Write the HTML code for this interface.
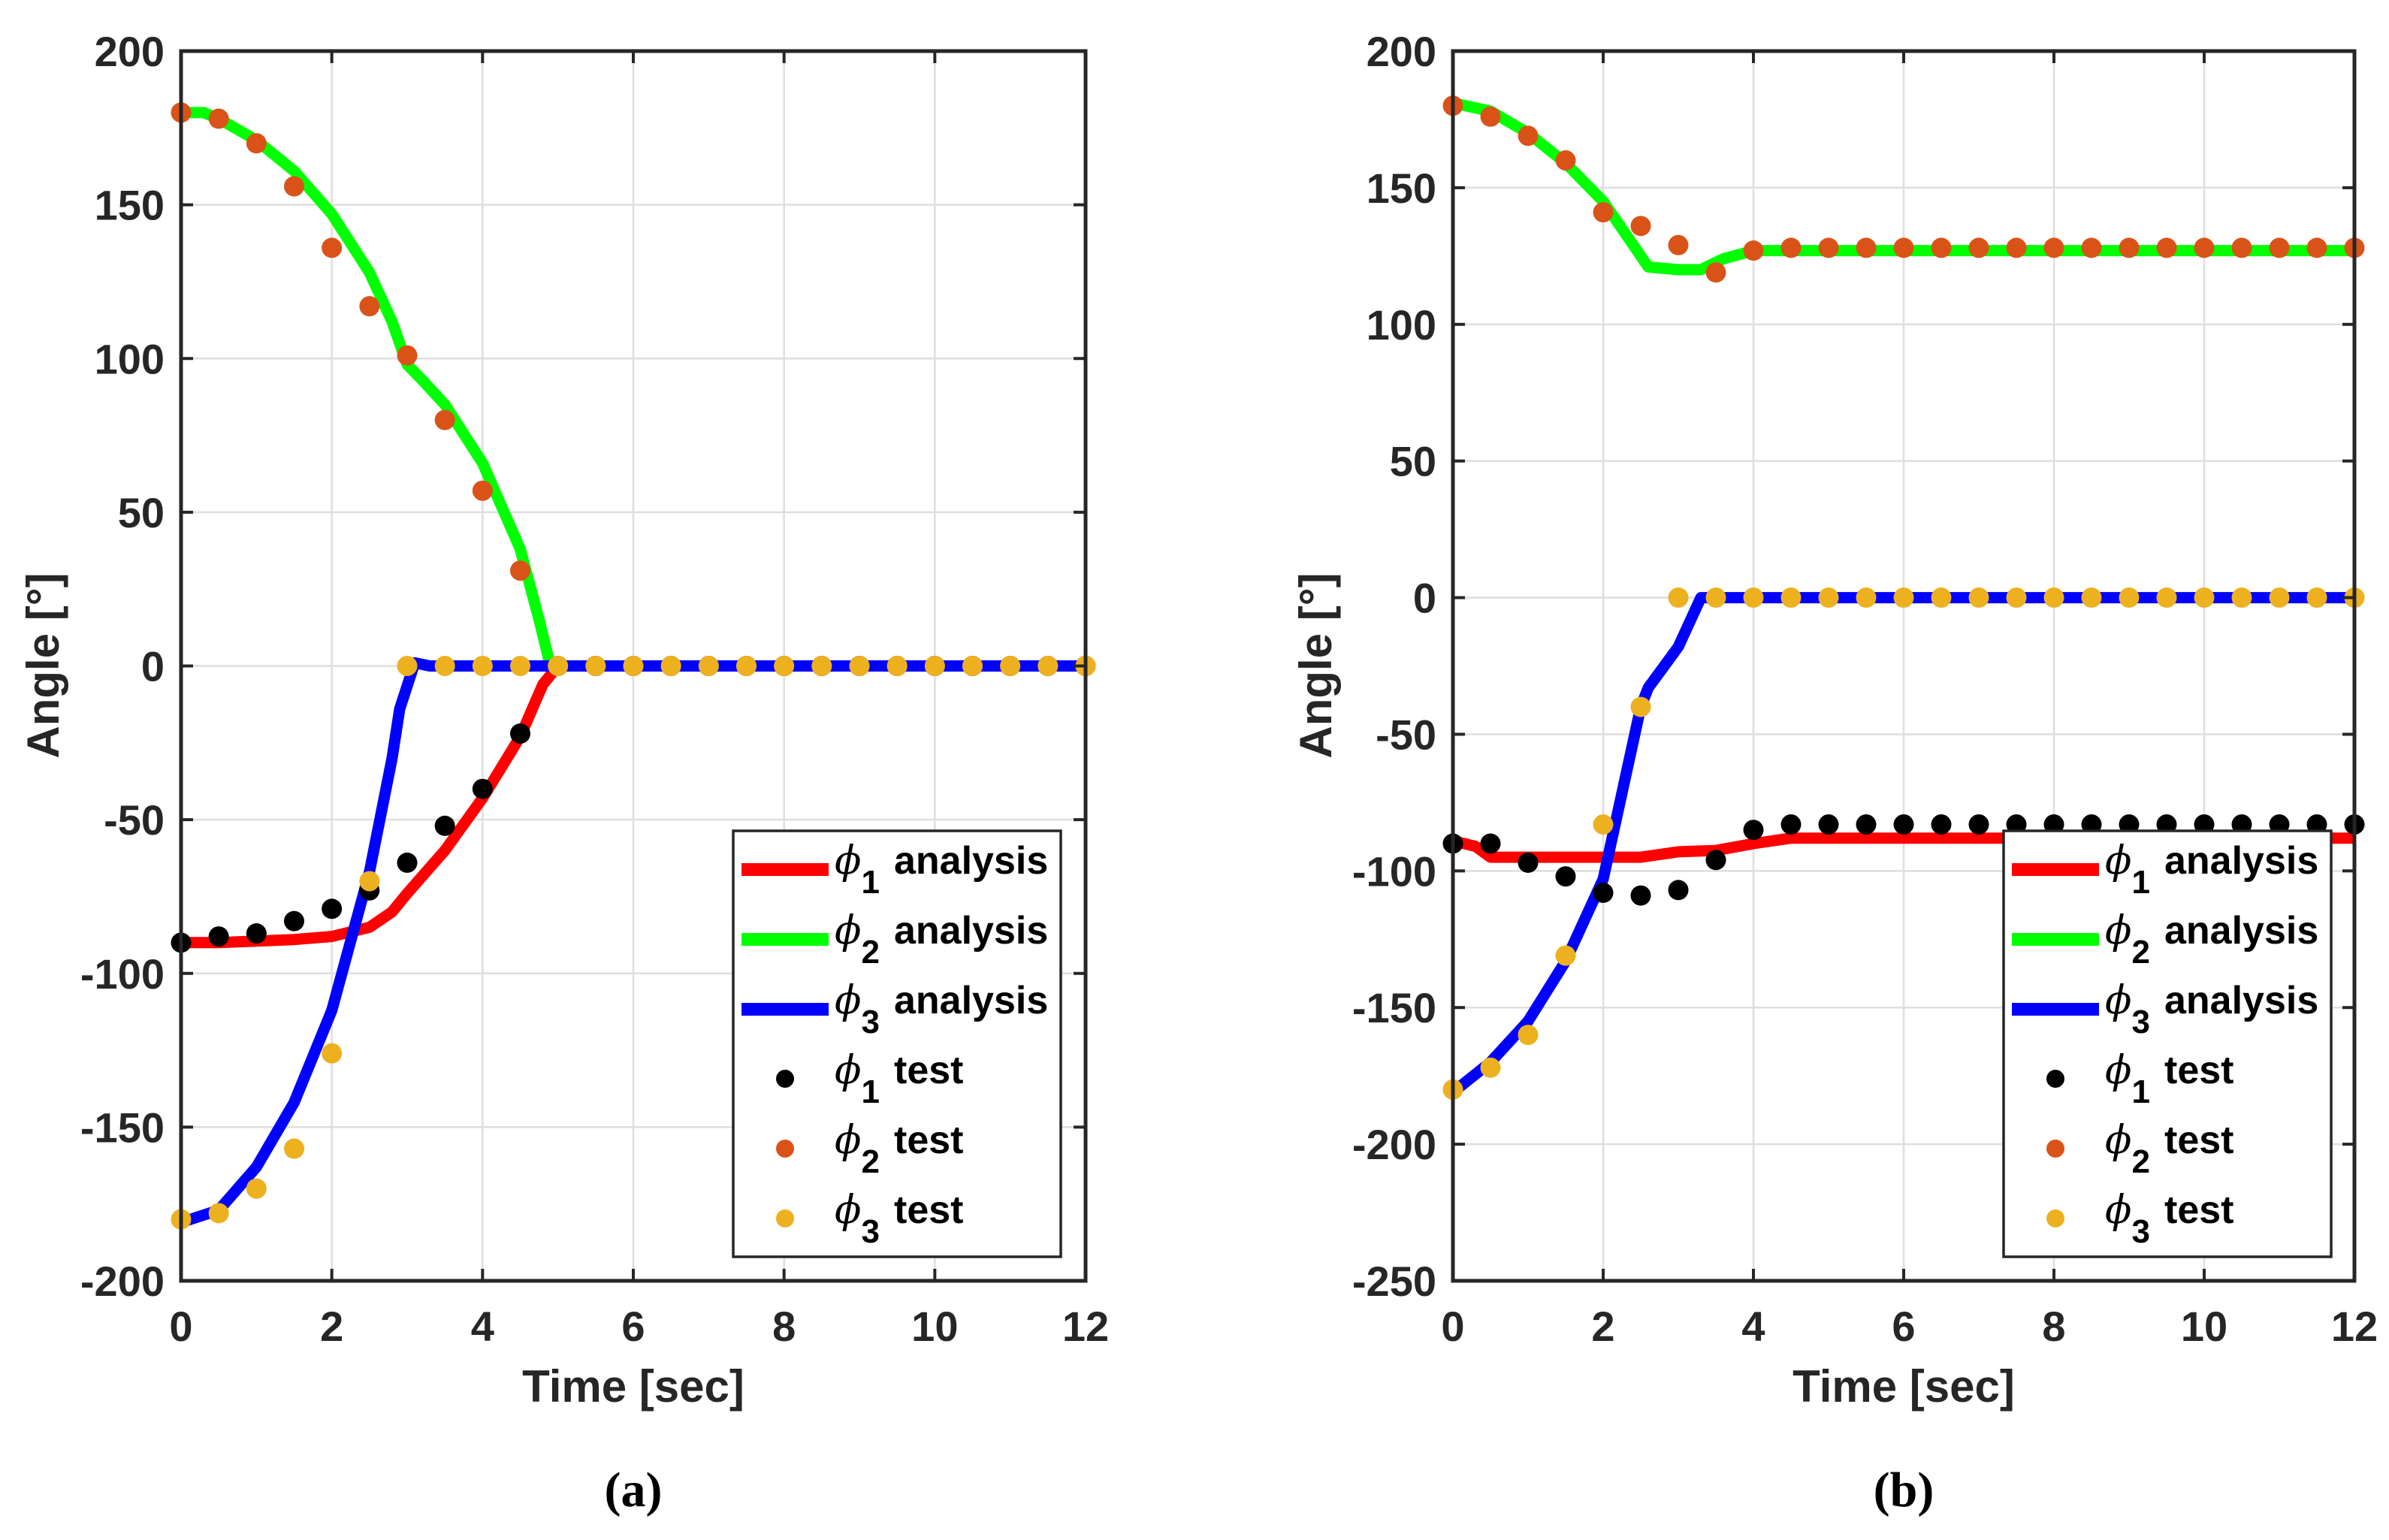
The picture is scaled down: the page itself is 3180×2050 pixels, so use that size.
<!DOCTYPE html>
<html><head><meta charset="utf-8"><style>
html,body{margin:0;padding:0;background:#fff;}
svg{display:block;font-family:"Liberation Sans",Arial,sans-serif;}
</style></head><body>
<svg id="fig" width="3180" height="2050" viewBox="0 0 3180 2050" xmlns="http://www.w3.org/2000/svg"></svg>
<script>
// ---- Panel (a) data ----
const aPhi1T = [0,0.5,1,1.5,2,2.5,2.8,3,3.5,4,4.5,4.8,5,12];
const aPhi1V = [-90,-90,-89.5,-89,-88,-85,-80,-74,-60,-43,-23,-6,0,0];
const aPhi2T = [0,0.3,0.5,1,1.5,2,2.5,2.8,3,3.2,3.5,4,4.5,4.75,4.9,12];
const aPhi2V = [180,180,178,171,161,147,128,112,98,93,85,66,38,15,0,0];
const aPhi3T = [0,0.5,1,1.5,2,2.5,2.8,2.9,3.1,3.3,12];
const aPhi3V = [-181,-177,-163,-142,-112,-67,-30,-14,1,0,0];
const testTimes = [0,0.5,1,1.5,2,2.5,3,3.5,4,4.5,5,5.5,6,6.5,7,7.5,8,8.5,9,9.5,10,10.5,11,11.5,12];
const aTest1 = [-90,-88,-87,-83,-79,-73,-64,-52,-40,-22,0,0,0,0,0,0,0,0,0,0,0,0,0,0,0];
const aTest2 = [180,178,170,156,136,117,101,80,57,31,0,0,0,0,0,0,0,0,0,0,0,0,0,0,0];
const aTest3 = [-180,-178,-170,-157,-126,-70,0,0,0,0,0,0,0,0,0,0,0,0,0,0,0,0,0,0,0];
const aYTicks = [-200,-150,-100,-50,0,50,100,150,200];
// ---- Panel (b) data ----
const bPhi1T = [0,0.3,0.5,1,2,2.5,3,3.5,4,4.5,12];
const bPhi1V = [-89,-91,-95,-95,-95,-95,-93,-92.5,-90,-88,-88];
const bPhi2T = [0,0.5,1,1.5,2,2.3,2.6,3,3.3,3.6,4,12];
const bPhi2V = [181,178,170,159,145,133,121,120,120,124,127,127];
const bPhi3T = [0,0.5,1,1.5,2,2.5,2.6,3,3.3,12];
const bPhi3V = [-181,-170,-155,-133,-103,-40,-33,-18,0,0];
const bTest1 = [-90,-90,-97,-102,-108,-109,-107,-96,-85,-83,-83,-83,-83,-83,-83,-83,-83,-83,-83,-83,-83,-83,-83,-83,-83];
const bTest2 = [180,176,169,160,141,136,129,119,127,128,128,128,128,128,128,128,128,128,128,128,128,128,128,128,128];
const bTest3 = [-180,-172,-160,-131,-83,-40,0,0,0,0,0,0,0,0,0,0,0,0,0,0,0,0,0,0,0];
const bYTicks = [-250,-200,-150,-100,-50,0,50,100,150,200];
const xTicks = [0,2,4,6,8,10,12];

const NS = "http://www.w3.org/2000/svg";
const fig = document.getElementById('fig');
function mk(tag, attrs, parent){
  const e = document.createElementNS(NS, tag);
  for (const k in attrs) e.setAttribute(k, attrs[k]);
  (parent||fig).appendChild(e);
  return e;
}

function panel(p){
  const g = mk('g', {});
  
  
  const X = t => p.x0 + (t - 0) / 12 * (p.x1 - p.x0);
  const Y = v => p.yB + (v - p.ymin) / (p.ymax - p.ymin) * (p.yT - p.yB);
  xTicks.forEach(t => {
    const l = mk('line', {x1:X(t), x2:X(t), y1:p.yT, y2:p.yB, stroke:'#dedede', 'stroke-width':2.5}, g);
    
    
  });
  p.yTicks.forEach(v => {
    const l = mk('line', {x1:p.x0, x2:p.x1, y1:Y(v), y2:Y(v), stroke:'#dedede', 'stroke-width':2.5}, g);
    
    
  });
  const series = [[p.l1T,p.l1V,'#ff0000','phi1-analysis-line'],[p.l2T,p.l2V,'#00ff00','phi2-analysis-line'],[p.l3T,p.l3V,'#0000ff','phi3-analysis-line']];
  series.forEach(s => {
    const d = s[0].map((t,i) => (i?'L':'M') + X(t).toFixed(1) + ' ' + Y(s[1][i]).toFixed(1)).join(' ');
    const path = mk('path', {d:d, fill:'none', stroke:s[2], 'stroke-width':15, 'stroke-linejoin':'round'}, g);
    
    
  });
  const tests = [[p.t1,'#000000','phi1-test-point'],[p.t2,'#d95319','phi2-test-point'],[p.t3,'#edb120','phi3-test-point']];
  tests.forEach(s => {
    s[0].forEach((v,i) => {
      const c = mk('circle', {cx:X(testTimes[i]), cy:Y(v), r:13.5, fill:s[1]}, g);
      
      
    });
  });
  const box = mk('rect', {x:p.x0, y:p.yT, width:p.x1-p.x0, height:p.yB-p.yT, fill:'none', stroke:'#262626', 'stroke-width':5}, g);
  
  
  xTicks.forEach(t => {
    mk('line', {x1:X(t), x2:X(t), y1:p.yB, y2:p.yB-16, stroke:'#262626', 'stroke-width':4}, g);
    mk('line', {x1:X(t), x2:X(t), y1:p.yT, y2:p.yT+16, stroke:'#262626', 'stroke-width':4}, g);
    const tx = mk('text', {x:X(t), y:p.yB+80, 'text-anchor':'middle', 'font-size':56, 'font-weight':'bold', fill:'#262626'}, g);
    tx.textContent = t;
    
    
  });
  p.yTicks.forEach(v => {
    mk('line', {x1:p.x0, x2:p.x0+16, y1:Y(v), y2:Y(v), stroke:'#262626', 'stroke-width':4}, g);
    mk('line', {x1:p.x1, x2:p.x1-16, y1:Y(v), y2:Y(v), stroke:'#262626', 'stroke-width':4}, g);
    const tx = mk('text', {x:p.x0-22, y:Y(v)+20, 'text-anchor':'end', 'font-size':56, 'font-weight':'bold', fill:'#262626'}, g);
    tx.textContent = v;
    
    
  });
  const xt = mk('text', {x:(p.x0+p.x1)/2, y:1866, 'text-anchor':'middle', 'font-size':60, 'font-weight':'bold', fill:'#262626'}, g);
  xt.textContent = 'Time [sec]';
  
  
  const yt = mk('text', {x:0, y:0, 'text-anchor':'middle', 'font-size':60, 'font-weight':'bold', fill:'#262626', transform:`translate(${p.ylx},886) rotate(-90)`}, g);
  yt.textContent = 'Angle [°]';
  
  
  const cap = mk('text', {x:(p.x0+p.x1)/2, y:2005, 'text-anchor':'middle', 'font-size':66, 'font-weight':'bold', 'font-family':'"Liberation Serif",serif', fill:'#000'}, g);
  cap.textContent = p.cap;
  
  
  const lg = mk('g', {}, g);
  
  
  const L = p.lgx;
  mk('rect', {x:L, y:1106, width:436, height:567, fill:'#fff', stroke:'#262626', 'stroke-width':3.5}, lg);
  const rows = [['#ff0000','line','1','analysis'],['#00ff00','line','2','analysis'],['#0000ff','line','3','analysis'],['#000000','dot','1','test'],['#d95319','dot','2','test'],['#edb120','dot','3','test']];
  rows.forEach((r,i) => {
    const cy = 1157 + i*93;
    const entry = mk('g', {}, lg);
    
    
    if (r[1]==='line') mk('rect', {x:L+11, y:cy-8, width:116, height:17, fill:r[0]}, entry);
    else mk('circle', {cx:L+69, cy:cy, r:12, fill:r[0]}, entry);
    const t = mk('text', {x:L+135, y:cy+6, 'font-size':52, fill:'#000'}, entry);
    const s1 = mk('tspan', {'font-style':'italic', 'font-family':'"DejaVu Serif",serif'}, t); s1.textContent = 'ϕ';
    const s2 = mk('tspan', {dy:26, 'font-size':44, 'font-weight':'bold'}, t); s2.textContent = r[2];
    const s3 = mk('tspan', {x:L+214, dy:-26, 'font-weight':'bold'}, t); s3.textContent = r[3];
  });
}

panel({name:'panel-a', x0:241, x1:1445, yT:68, yB:1705, ymin:-200, ymax:200, yTicks:aYTicks,
  l1T:aPhi1T,l1V:aPhi1V,l2T:aPhi2T,l2V:aPhi2V,l3T:aPhi3T,l3V:aPhi3V,t1:aTest1,t2:aTest2,t3:aTest3,
  ylx:78, cap:'(a)', lgx:976});
panel({name:'panel-b', x0:1934, x1:3134, yT:68, yB:1705, ymin:-250, ymax:200, yTicks:bYTicks,
  l1T:bPhi1T,l1V:bPhi1V,l2T:bPhi2T,l2V:bPhi2V,l3T:bPhi3T,l3V:bPhi3V,t1:bTest1,t2:bTest2,t3:bTest3,
  ylx:1772, cap:'(b)', lgx:2667});
</script>
</body></html>
